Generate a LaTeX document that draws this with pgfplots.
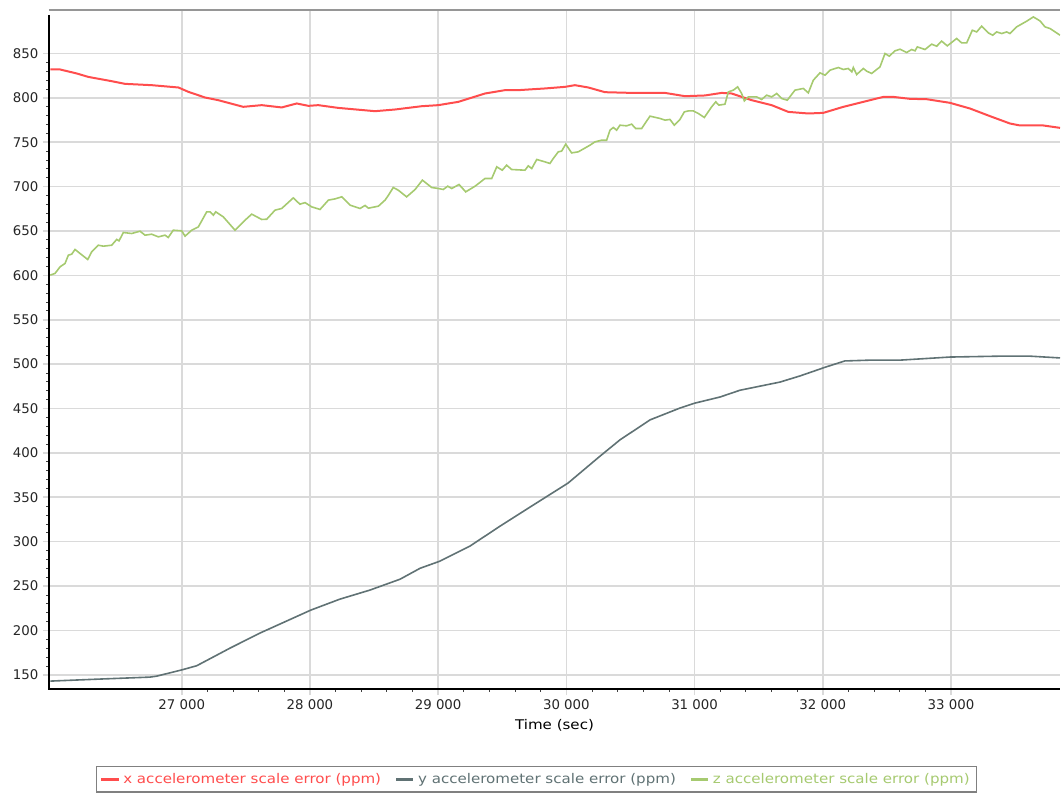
\documentclass[border=0pt]{standalone}
\usepackage{fontspec}
\setmainfont{DejaVu Sans}
\newfontfamily\widesans[FakeStretch=1.13]{DejaVu Sans}
\usepackage{pgfplots}
\pgfplotsset{compat=1.18}
\definecolor{xred}{RGB}{255,77,77}
\definecolor{yslate}{RGB}{96,114,116}
\definecolor{zgreen}{RGB}{166,202,112}
\definecolor{gridgray}{RGB}{218,218,218}
\definecolor{framegray}{RGB}{150,150,150}
\definecolor{legendgray}{RGB}{128,128,128}

\pgfplotstableread{
t v
25975 832
26051 832
26181 827.5
26272 823.6
26454 818.8
26558 815.8
26766 814.3
26974 811.7
27052 806.8
27182 800.4
27285 797.4
27480 789.9
27624 791.8
27780 789.2
27897 793.7
27988 791
28065 791.8
28221 788.7
28508 785
28664 786.9
28872 790.6
29001 791.8
29157 795.5
29365 804.9
29521 808.7
29625 808.7
29833 810.6
29989 812.4
30067 814.3
30171 811.7
30301 806.4
30509 805.6
30769 805.6
30925 801.9
31081 802.7
31211 805.6
31289 804.9
31445 797.4
31601 791.8
31731 784.2
31887 782.4
32004 783.1
32160 789.9
32316 795.5
32472 801.1
32550 801.1
32680 798.9
32810 798.5
32992 794.4
33148 788
33304 779.4
33460 771.1
33538 768.9
33720 768.9
33850 766.2
}\xdata

\pgfplotstableread{
t v
25975 142.9
26363 145.2
26753 147.4
26805 148.5
27000 155.5
27117 160.2
27376 180
27610 197
28007 222.9
28233 235.2
28467 245.4
28703 257.7
28859 270
29013 278
29248 295
29483 317.5
29717 339
30013 366
30263 396.4
30419 414.8
30654 437.3
30887 450.6
31000 456
31199 463
31354 470.6
31666 479.8
31822 486.7
32024 496.8
32172 503.6
32367 504.5
32601 504.5
32992 508
33382 509
33616 509
33850 507
}\ydata

\pgfplotstableread{
t v
25975 600.3
26012 602.2
26051 609.6
26090 613.4
26116 622.8
26142 623.9
26168 629.2
26207 624.7
26267 617.9
26298 626.5
26350 634
26389 632.9
26454 634
26493 640.5
26511 638.9
26545 648.3
26610 647.2
26675 649.8
26714 645.3
26766 646.4
26818 643.4
26870 645.3
26895 642.7
26934 650.9
27000 650.2
27026 644.2
27078 650.9
27130 654.7
27195 671.6
27221 671.6
27247 667.8
27265 671.6
27324 666
27416 650.9
27494 662.2
27546 669
27624 663
27663 663.3
27728 673.5
27780 675.4
27870 687.3
27922 680.2
27962 682
28014 677.2
28079 674.3
28144 684.8
28196 686.2
28248 688.5
28313 679.1
28391 675.4
28430 678.8
28456 675.7
28534 678
28586 684.8
28611 690
28650 699
28689 696
28754 688.5
28820 696.7
28877 707.3
28950 699
29001 697.9
29040 696.8
29075 700.5
29106 697.9
29163 702.4
29215 694.1
29288 700.5
29366 709.2
29418 709.2
29457 722.3
29500 718.5
29534 724.2
29573 719.3
29677 718.5
29703 723.4
29730 720.4
29769 730.6
29833 727.9
29872 726.1
29898 731.7
29937 739.2
29963 740
29995 747.9
30041 738
30093 739.2
30184 746.7
30223 750.4
30275 752.3
30314 752.3
30340 763.6
30366 766.6
30392 763.6
30418 769.2
30470 768.5
30509 770.4
30540 765.5
30587 765.5
30652 779.4
30730 776.8
30769 774.9
30808 775.7
30842 769.2
30886 775.7
30920 784.2
30951 785.3
30990 785.3
31029 782.4
31076 777.9
31133 789.9
31165 795.5
31190 791.8
31237 792.9
31263 806.7
31302 808.7
31336 812.4
31367 804.9
31388 796.6
31419 801.1
31484 801.1
31523 798.2
31562 803
31601 801.1
31640 804.9
31679 799.3
31723 797.4
31783 808.7
31848 810.6
31887 805.6
31926 819.9
31978 828.2
32017 825.6
32056 831.2
32121 834.2
32160 832
32199 833.1
32226 829.3
32238 834.2
32264 826.3
32316 833.1
32342 830.1
32381 827.5
32446 834.9
32485 850
32518 847
32563 853
32602 854.8
32654 851.1
32693 854.5
32719 853
32737 857.4
32797 854.5
32849 860.5
32888 858.2
32927 863.9
32971 858.6
33044 866.9
33083 861.9
33122 861.9
33166 876.2
33200 874.3
33239 880.8
33291 873.2
33325 870.6
33356 874.3
33395 872.5
33434 874.3
33460 872.5
33512 880
33590 886.4
33642 891.2
33694 886.7
33733 880
33772 878.1
33850 870.6
}\zdata

\begin{document}
\begin{tikzpicture}
\useasboundingbox (-36.75pt,-77.25pt) rectangle (759.75pt,516.75pt);
\begin{axis}[
  at={(0,0)}, anchor=south west,
  scale only axis,
  width=758.25pt, height=509.25pt,
  xmin=25965, xmax=33850,
  ymin=134, ymax=899,
  xtick={27000,28000,29000,30000,31000,32000,33000},
  ytick={150,200,...,850},
  scaled x ticks=false,
  minor x tick num=4,
  minor y tick num=4,
  xtick pos=bottom, ytick pos=left,
  tick align=outside,
  major tick length=4.5pt,
  minor tick length=2.2pt,
  major tick style={draw=gridgray, line width=1.2pt},
  minor tick style={draw=black!75, line width=0.6pt},
  grid=major,
  major grid style={draw=gridgray, line width=1.2pt},
  axis line style={draw=none},
  font=\fontsize{10pt}{12pt}\selectfont,
  tick label style={text=black!85},
  /pgf/number format/assume math mode=true,
  xticklabel style={/pgf/number format/1000 sep={\ }},
  yticklabel style={/pgf/number format/1000 sep={}},
  xlabel={\widesans Time (sec)},
  xlabel style={yshift=0pt},
  legend columns=3,
  legend cell align=left,
  legend image code/.code={\fill[#1] (0pt,-0.45pt) rectangle (12pt,0.45pt);},
  legend style={
    at={(0.4822,-0.1134)}, anchor=north,
    draw=legendgray, line width=1.1pt,
    inner xsep=3pt, inner ysep=3pt,
    font=\fontsize{10pt}{12pt}\selectfont\widesans,
    /tikz/every odd column/.append style={column sep=1.5pt},
    /tikz/every even column/.append style={column sep=9pt},
  },
  after end axis/.code={
    \draw[framegray, line width=1.5pt] (rel axis cs:0,1) -- (rel axis cs:1,1);
    \draw[black, line width=1.5pt] (rel axis cs:0,0.993) -- (rel axis cs:0,0) -- (rel axis cs:1,0);
  },
]
\addplot[xred, line width=1.5pt] table[x=t, y=v] {\xdata};
\addlegendentry{\textcolor{xred}{x accelerometer scale error (ppm)}}
\addplot[yslate, line width=1.2pt] table[x=t, y=v] {\ydata};
\addlegendentry{\textcolor{yslate}{y accelerometer scale error (ppm)}}
\addplot[zgreen, line width=1.2pt] table[x=t, y=v] {\zdata};
\addlegendentry{\textcolor{zgreen}{z accelerometer scale error (ppm)}}
\end{axis}
\end{tikzpicture}
\end{document}
